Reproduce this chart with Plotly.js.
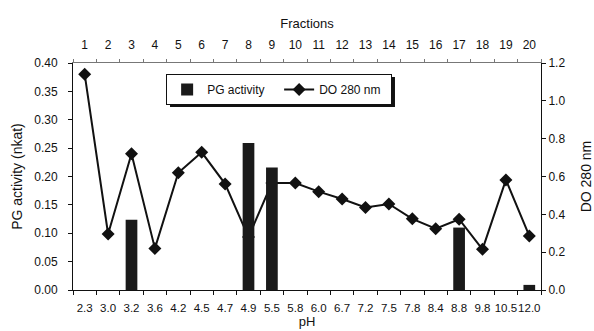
<!DOCTYPE html>
<html><head><meta charset="utf-8">
<script src="https://cdn.plot.ly/plotly-3.0.1.min.js"></script>
<style>body{margin:0;background:#fff}#c{width:594px;height:331px}</style>
</head><body><div id="c"></div>
<script>
var phLabels = ["2.3","3.0","3.2","3.6","4.2","4.5","4.7","4.9","5.5","5.8","6.0","6.7","7.2","7.5","7.8","8.4","8.8","9.8","10.5","12.0"];
var fractions = ["1","2","3","4","5","6","7","8","9","10","11","12","13","14","15","16","17","18","19","20"];
var pgActivity = [null,null,0.124,null,null,null,null,0.259,0.216,null,null,null,null,null,null,null,0.110,null,null,0.009];
var do280 = [1.14,0.296,0.72,0.22,0.62,0.728,0.561,0.28,0.565,0.565,0.52,0.481,0.436,0.455,0.376,0.324,0.374,0.215,0.582,0.286];

var font = {family:"Liberation Sans, Arial, sans-serif", color:"#111", size:12};
var traces = [
  {type:"scatter", x:phLabels, y:do280, yaxis:"y", name:"DO 280 nm", mode:"lines+markers",
   line:{color:"#111", width:2}, marker:{symbol:"diamond", size:10, color:"#111"}},
  {type:"scatter", x:fractions, y:do280, xaxis:"x2", yaxis:"y", mode:"markers",
   marker:{opacity:0}, showlegend:false, hoverinfo:"skip"},
  {type:"bar", x:phLabels, y:pgActivity, yaxis:"y2", name:"PG activity", marker:{color:"#1a1a1a"}, width:0.5}
];
var layout = {
  width:594, height:331, font:font, paper_bgcolor:"#fff", plot_bgcolor:"#fff",
  margin:{l:73, r:53, t:63, b:41},
  showlegend:true,
  legend:{orientation:"h", x:0.199, y:0.952, xanchor:"left", yanchor:"top", traceorder:"reversed",
    entrywidth:67, entrywidthmode:"pixels",
    bordercolor:"#111", borderwidth:1, bgcolor:"#fff", font:{size:12, family:font.family}},
  shapes:[{type:"rect", xref:"paper", yref:"paper", layer:"above",
    x0:0.2073, x1:0.688, y0:0.8062, y1:0.9383, fillcolor:"#111", line:{width:0}}],
  xaxis:{type:"category", range:[-0.5,19.5], tickson:"boundaries", ticks:"outside", ticklen:4,
    showline:true, linecolor:"#111", linewidth:1, showgrid:false, tickcolor:"#111",
    ticklabelstandoff:7, tickfont:{size:11.5},
    title:{text:"pH", standoff:1, font:{size:13}}, tickangle:0},
  xaxis2:{type:"category", overlaying:"x", side:"top", range:[-0.5,19.5], tickson:"boundaries",
    ticks:"outside", ticklen:3, showline:true, linecolor:"#777", tickcolor:"#777", showgrid:false,
    ticklabelstandoff:8,
    title:{text:"Fractions", standoff:6, font:{size:13}}, tickangle:0},
  yaxis:{range:[0,1.2], dtick:0.2, tickformat:".1f", side:"right", ticks:"outside",
    ticklen:4, showline:true, linecolor:"#111", tickcolor:"#111", showgrid:false, zeroline:false,
    title:{text:"DO 280 nm", font:{size:14}, standoff:16}},
  yaxis2:{range:[0,0.4], dtick:0.05, tickformat:".2f", overlaying:"y", side:"left", ticks:"outside", ticklen:4, showline:true,
    linecolor:"#111", tickcolor:"#111", showgrid:false, zeroline:false, ticklabelstandoff:8,
    title:{text:"PG activity (nkat)", font:{size:14}, standoff:8}}
};
Plotly.newPlot("c", traces, layout, {displayModeBar:false, staticPlot:true});
</script></body></html>
